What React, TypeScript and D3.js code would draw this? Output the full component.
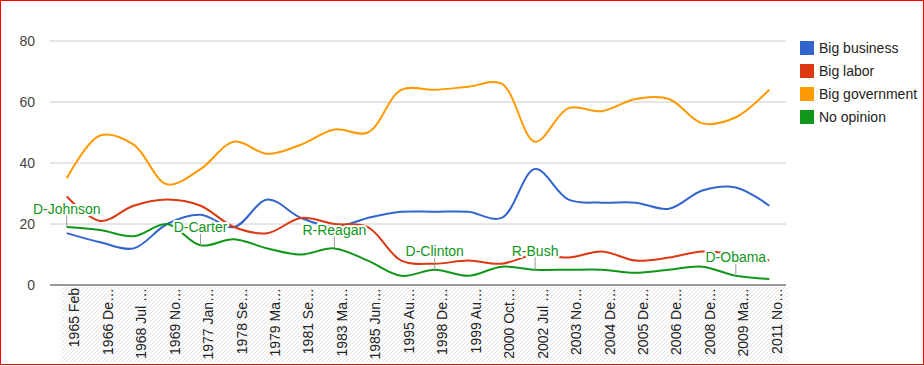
import * as d3 from 'd3';
import React from 'react';

// Poll dates as shown on the axis (Google truncates them)
const categories = [
  '1965 Feb', '1966 De…', '1968 Jul …', '1969 No…', '1977 Jan…', '1978 Se…',
  '1979 Ma…', '1981 Se…', '1983 Ma…', '1985 Jun…', '1995 Au…', '1998 De…',
  '1999 Au…', '2000 Oct…', '2002 Jul …', '2003 No…', '2004 De…', '2005 De…',
  '2006 De…', '2008 De…', '2009 Ma…', '2011 No…',
];

const bigBusiness = [17, 14, 12, 20, 23, 19, 28, 22, 19, 22, 24, 24, 24, 22, 38, 28, 27, 27, 25, 31, 32, 26];
const bigLabor = [29, 21, 26, 28, 26, 19, 17, 22, 20, 19, 8, 7, 8, 7, 10, 9, 11, 8, 9, 11, 10, 8];
const bigGovernment = [35, 49, 46, 33, 38, 47, 43, 46, 51, 50, 64, 64, 65, 66, 47, 58, 57, 61, 61, 53, 55, 64];
const noOpinion = [19, 18, 16, 20, 13, 15, 12, 10, 12, 8, 3, 5, 3, 6, 5, 5, 5, 4, 5, 6, 3, 2];

const seriesNames = ['Big business', 'Big labor', 'Big government', 'No opinion'];
const seriesColors = ['#3366cc', '#dc3912', '#ff9900', '#109618'];

const yTicks = [0, 20, 40, 60, 80];

// president annotations, pinned to the "No opinion" line
const annotationAt = ['1965 Feb', '1977 Jan…', '1983 Ma…', '1998 De…', '2002 Jul …', '2009 Ma…'];
const annotationText = ['D-Johnson', 'D-Carter', 'R-Reagan', 'D-Clinton', 'R-Bush', 'D-Obama'];

const W = 924;
const H = 366;
const FONT = 'Arial, "Liberation Sans", sans-serif';

const App = () => {
  const x = d3.scalePoint<string>().domain(categories).range([50, 786]).padding(0.5);
  const y = d3.scaleLinear().domain([0, 80]).range([285, 41]);

  const line = d3
    .line<number>()
    .x((_, i) => x(categories[i]) as number)
    .y((d) => y(d))
    .curve(d3.curveCatmullRom);

  const series = [bigBusiness, bigLabor, bigGovernment, noOpinion];

  return (
    <svg
      width={W}
      height={H}
      style={{ position: 'absolute', left: 0, top: 0, background: 'white' }}
      fontFamily={FONT}
    >
      <defs>
        <pattern id="hatch" patternUnits="userSpaceOnUse" width={4} height={4}>
          <path d="M-1,1 l2,-2 M0,4 l4,-4 M3,5 l2,-2" stroke="#e2e2e2" strokeWidth={1} />
        </pattern>
      </defs>

      {/* label band */}
      <rect x={61} y={287} width={728} height={76} fill="url(#hatch)" />

      {/* gridlines */}
      {yTicks.filter((t) => t !== 0).map((t) => (
        <line key={t} x1={50} x2={786} y1={y(t)} y2={y(t)} stroke="#cccccc" strokeWidth={1} />
      ))}
      {yTicks.map((t) => (
        <text key={t} x={35} y={y(t) + 5} textAnchor="end" fontSize={14} fill="#444">
          {t}
        </text>
      ))}

      {/* lines */}
      {series.map((vals, k) => (
        <path key={k} d={line(vals) || ''} fill="none" stroke={seriesColors[k]} strokeWidth={2} />
      ))}

      {/* baseline */}
      <line x1={50} x2={786} y1={y(0)} y2={y(0)} stroke="#333" strokeWidth={1} />

      {/* x labels */}
      {categories.map((c) => (
        <text
          key={c}
          transform={`translate(${(x(c) as number) + 12.5},288) rotate(-90)`}
          textAnchor="end"
          fontSize={14}
          fill="#222"
        >
          {c}
        </text>
      ))}

      {/* annotations */}
      {annotationAt.map((c, i) => {
        const idx = categories.indexOf(c);
        const px = x(c) as number;
        const py = y(noOpinion[idx]);
        return (
          <g key={c}>
            <line x1={px} x2={px} y1={py} y2={py - 14} stroke="#999" strokeWidth={1} />
            <text
              x={px}
              y={py - 13.5}
              textAnchor="middle"
              fontSize={14}
              fill="#109618"
              stroke="white"
              strokeWidth={4}
              strokeLinejoin="round"
              paintOrder="stroke"
            >
              {annotationText[i]}
            </text>
          </g>
        );
      })}

      {/* legend */}
      {seriesNames.map((name, i) => (
        <g key={name} transform={`translate(800,${41 + i * 23})`}>
          <rect width={14} height={14} fill={seriesColors[i]} />
          <text x={19} y={12} fontSize={14} fill="#222">
            {name}
          </text>
        </g>
      ))}

      {/* frame */}
      <rect x={0.5} y={0.5} width={923} height={364} fill="none" stroke="red" strokeWidth={1} />
    </svg>
  );
};

export default App;
